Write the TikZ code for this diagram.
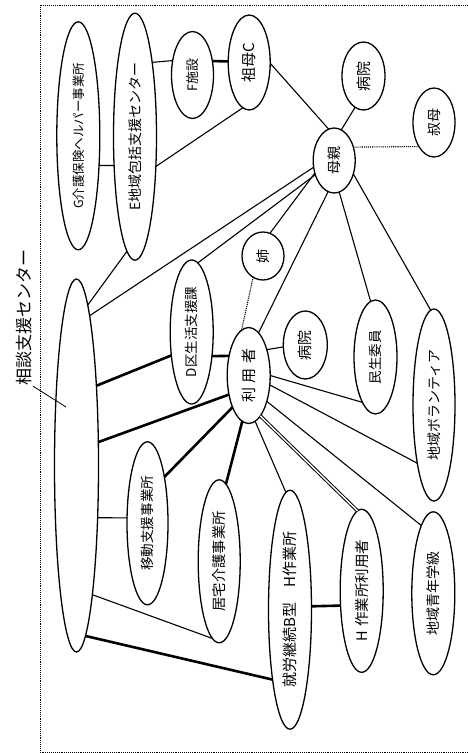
\documentclass[tikz,border=0pt]{standalone}
\usepackage{fontspec}
\setmainfont{Noto Sans CJK JP}
\usepackage{graphicx}
\usetikzlibrary{shapes.geometric}
\newcommand{\myfs}[1]{\fontsize{#1}{#1}\selectfont}
\newcommand{\rt}[2]{\rotatebox{90}{\myfs{#1}#2}}
\tikzset{
  ell/.style={draw, ellipse, line width=1.3pt, inner sep=0pt, outer sep=0pt},
  conn/.style={line width=1.1pt},
  fatconn/.style={line width=2.6pt},
  dotconn/.style={line width=1.1pt, densely dotted},
  dblconn/.style={line width=1pt, double, double distance=1.4pt},
}
\begin{document}
\begin{tikzpicture}[x=1pt,y=-1pt]
\useasboundingbox (0,0) rectangle (467,753);
\draw[densely dotted, line width=0.9pt] (40,5) rectangle (475,752);

% nodes
\node[ell, minimum width=44pt, minimum height=373pt] (S) at (76.5,465.5) {};
\node[ell, minimum width=43pt, minimum height=228pt] (G) at (78.3,135.8) {\rt{12.5}{G介護保険ヘルパー事業所}};
\node[ell, minimum width=43pt, minimum height=247pt] (E) at (135,136.7) {\rt{14}{E地域包括支援センター}};
\node[ell, minimum width=42pt, minimum height=87pt] (F) at (192.5,75) {\rt{13}{F施設}};
\node[ell, minimum width=42pt, minimum height=95pt] (C) at (249.2,62.5) {\rt{15}{祖母C}};
\node[ell, minimum width=43pt, minimum height=68pt] (Hb) at (363.5,76) {\rt{15}{病院}};
\node[ell, minimum width=42pt, minimum height=69pt] (Ob) at (434,122.5) {\rt{14}{叔母}};
\node[ell, minimum width=42pt, minimum height=65pt] (M) at (334.2,160.5) {\rt{14}{母親}};
\node[ell, minimum width=42pt, minimum height=48pt] (Ane) at (263,256) {\rt{14}{姉}};
\node[ell, minimum width=43pt, minimum height=144pt] (D) at (191.7,332) {\rt{13.5}{D区生活支援課}};
\node[ell, minimum width=43pt, minimum height=96pt] (U) at (248.7,375.5) {\rt{15}{利\hspace{0.3em}用\hspace{0.3em}者}};
\node[ell, minimum width=44pt, minimum height=68pt] (Hm) at (305.3,345) {\rt{15}{病院}};
\node[ell, minimum width=43pt, minimum height=114pt] (Mi) at (375.5,357) {\rt{13.5}{民生委員}};
\node[ell, minimum width=42pt, minimum height=192pt] (V) at (434,405) {\rt{14}{地域ボランティア}};
\node[ell, minimum width=41pt, minimum height=163pt] (Id) at (147.5,523.3) {\rt{13.6}{移動支援事業所}};
\node[ell, minimum width=42pt, minimum height=163pt] (K) at (219.2,561.3) {\rt{14.3}{居宅介護事業所}};
\node[ell, minimum width=43pt, minimum height=239pt] (Sh) at (290,609.7) {\rt{15}{就労継続B型　H作業所}};
\node[ell, minimum width=43pt, minimum height=163pt] (Hu) at (361.7,590.8) {\rt{14.5}{H\hspace{0.3em}作業所利用者}};
\node[ell, minimum width=43pt, minimum height=163pt] (Se) at (433.3,593.3) {\rt{14}{地域青年学級}};

% handwritten label
\node[rotate=90, inner sep=1pt] (lbl) at (24,317) {\myfs{17}相談支援センター};
\coordinate (lead) at (66,407);
\draw[line width=0.8pt] (lbl.south west) -- (lead);

% connectors
\draw[conn] (G.-55) -- (E.234);
\draw[conn] (E.77.7) -- (F.144.7);
\draw[fatconn] (F.35.3) -- (C.177.3);
\draw[conn] (C.262.7) -- (E.-55.4);
\draw[conn] (C.-2.7) -- (M.100.5);
\draw[conn] (M.77.7) -- (Hb.255.1);
\draw[dotconn] (M.35.5) -- (Ob.238.5);
\draw[conn] (M.198.1) -- (S.85.2);
\draw[conn] (M.217.8) -- (D.85.9);
\draw[conn] (M.213) -- (Ane.73);
\draw[conn] (M.259.4) -- (U.77.5);
\draw[conn] (M.279.6) -- (Mi.95.6);
\draw[conn] (M.325.9) -- (V.92.4);
\draw[conn] (E.266.2) -- (S.86.1);
\draw[fatconn] (D.229) -- (S.76);
\draw[fatconn] (D.-50.8) -- (U.135.5);
\draw[fatconn] (U.224) -- (S.47.1);
\draw[conn] (U.55.9) -- (Hm.185);
\draw[conn] (U.0) -- (Mi.254.8);
\draw[conn] (U.-24.4) -- (V.254.5);
\draw[conn] (U.-55.9) -- (Se.100.2);
\draw[dblconn] (U.-74.4) -- (Hu.93.8);
\draw[conn] (U.-82.9) -- (Sh.92.7);
\draw[fatconn] (U.262.3) -- (K.85);
\draw[fatconn] (U.243.3) -- (Id.70.6);
\draw[conn] (Id.165.6) -- (S.-68.1);
\draw[conn] (S.-83.8) -- (K.265);
\draw[fatconn] (S.-87.8) -- (Sh.256.6);
\draw[fatconn] (Sh.9.7) -- (Hu.215.5);
\draw[dotconn] (Ane.245.5) -- (U.99.1);
\end{tikzpicture}
\end{document}
